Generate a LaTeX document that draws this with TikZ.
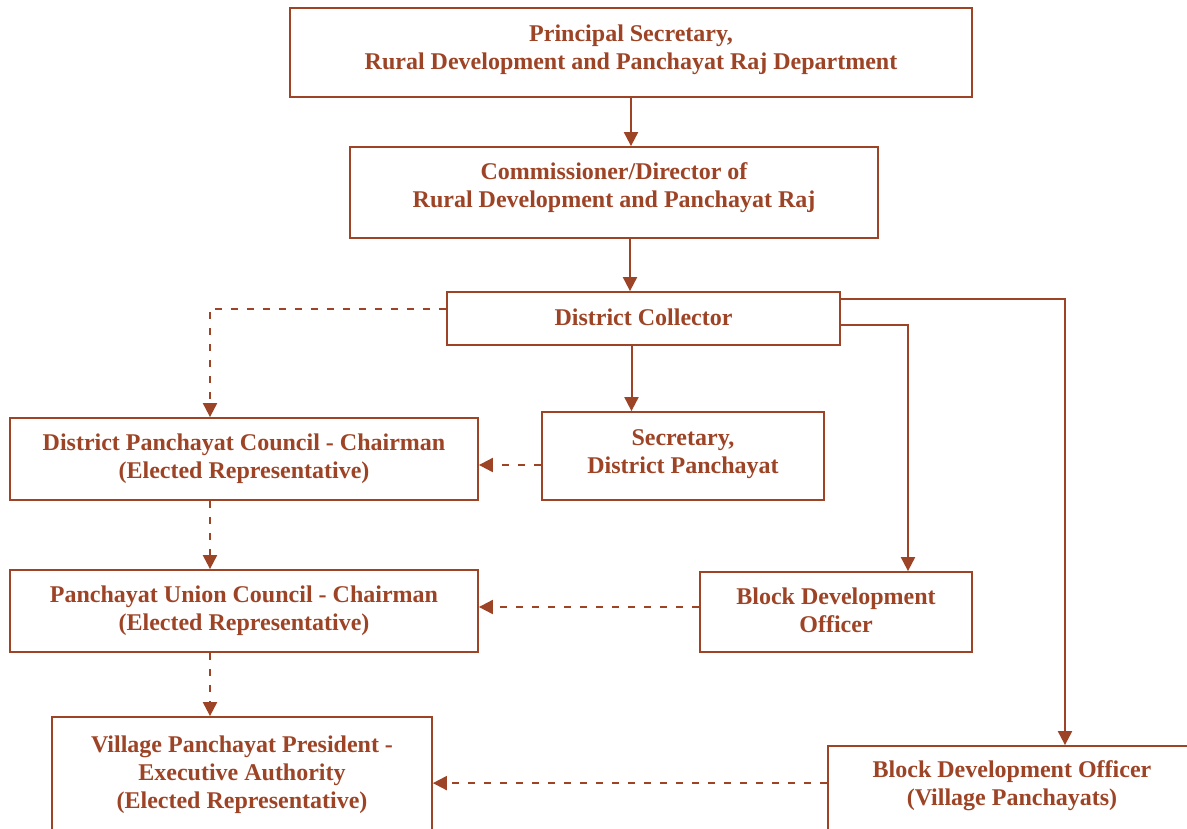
\documentclass[tikz,border=0pt]{standalone}
\usepackage{fontspec}
\setmainfont{Liberation Serif}
\usetikzlibrary{arrows.meta}
\definecolor{brn}{RGB}{158,68,38}
\newcommand\dpstrut[1]{\rule[-#1]{0pt}{#1}}
\begin{document}
\begin{tikzpicture}[x=1pt,y=-1pt,
  txt/.style={align=center, text=brn, inner sep=0pt, font=\bfseries\fontsize{24}{28}\selectfont},
  box/.style={txt, draw=brn, line width=1.8pt, rectangle},
  sarr/.style={draw=brn, line width=2pt, -{Triangle[width=14pt,length=14pt]}},
  darr/.style={sarr, dash pattern=on 7pt off 9pt}]
\useasboundingbox (0,0) rectangle (1187,828);
\clip (0,0) rectangle (1187,828);
\fill[white] (0,0) rectangle (1187,828);

\node[box, minimum width=682pt, minimum height=89pt] (ps) at (631,52.5)
  {Principal Secretary,\\Rural Development and Panchayat Raj Department\dpstrut{11pt}};
\node[box, minimum width=528pt, minimum height=91pt] (comm) at (614,192.5)
  {Commissioner/Director of\\Rural Development and Panchayat Raj\dpstrut{15pt}};
\node[box, minimum width=393pt, minimum height=53pt] (dc) at (643.5,318.5)
  {District Collector\dpstrut{3pt}};
\node[box, minimum width=468pt, minimum height=82pt] (dpc) at (244,459)
  {District Panchayat Council - Chairman\\(Elected Representative)};
\node[box, minimum width=282pt, minimum height=88pt] (sec) at (683,456)
  {Secretary,\\District Panchayat\dpstrut{8pt}};
\node[box, minimum width=468pt, minimum height=82pt] (puc) at (244,611)
  {Panchayat Union Council - Chairman\\(Elected Representative)};
\node[box, minimum width=272pt, minimum height=80pt] (bdo) at (836,612)
  {Block Development\\Officer\dpstrut{4pt}};
\node[box, minimum width=380pt, minimum height=143pt] (vpp) at (242,788.5) {};
\node[txt] (vppt) at (242,775)
  {Village Panchayat President -\\Executive Authority\\(Elected Representative)};
\node[box, minimum width=372pt, minimum height=115pt] (bdovp) at (1014,803.5) {};
\node[txt] (bdovpt) at (1012,785.5)
  {Block Development Officer\\(Village Panchayats)};

\draw[sarr] (ps.south) -- (ps.south |- comm.north);
\draw[sarr] ([xshift=16pt]comm.south) -- ([xshift=16pt]comm.south |- dc.north);
\draw[sarr] ([xshift=-12pt]dc.south) -- ([xshift=-12pt]dc.south |- sec.north);
\draw[darr] ([yshift=10pt]dc.west) -| ([xshift=-34pt]dpc.north);
\draw[sarr] ([yshift=-6pt]dc.east) -| ([xshift=72pt]bdo.north);
\draw[sarr] ([yshift=20pt]dc.east) -| ([xshift=51pt]bdovp.north);
\draw[darr] ([yshift=-9pt]sec.west) -- ([yshift=-9pt]sec.west -| dpc.east);
\draw[darr] ([xshift=-34pt]dpc.south) -- ([xshift=-34pt]puc.north);
\draw[darr] ([yshift=5pt]bdo.west) -- ([yshift=5pt]bdo.west -| puc.east);
\draw[darr] ([xshift=-34pt]puc.south) -- ([xshift=-34pt]puc.south |- vpp.north);
\draw[darr] ([yshift=-38pt]bdovp.north west) -- ([yshift=-38pt]bdovp.north west -| vpp.east);
\end{tikzpicture}
\end{document}
